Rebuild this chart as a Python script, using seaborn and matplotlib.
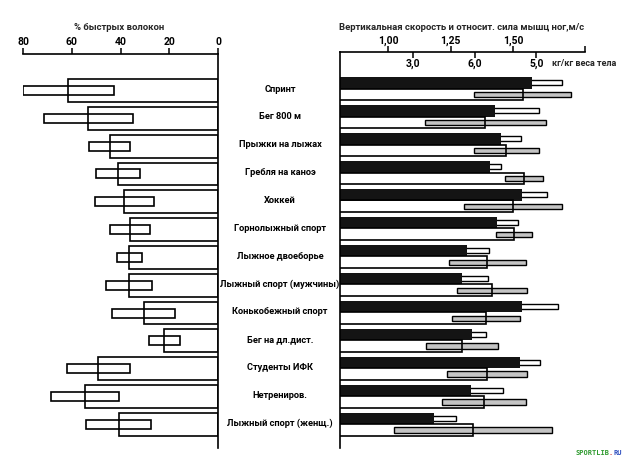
import numpy as np
import pandas as pd
import matplotlib
matplotlib.use("Agg")
import matplotlib.pyplot as plt
import seaborn as sns
from matplotlib.transforms import blended_transform_factory

# ---------------- data ----------------
categories = ["Спринт", "Бег 800 м", "Прыжки на лыжах", "Гребля на каноэ", "Хоккей",
              "Горнолыжный спорт", "Лыжное двоеборье", "Лыжный спорт (мужчины)",
              "Конькобежный спорт", "Бег на дл.дист.", "Студенты ИФК", "Нетрениров.",
              "Лыжный спорт (женщ.)"]
fast_fiber_mean = [61.4, 53.2, 44.5, 41.1, 38.4, 36.1, 36.4, 36.5, 30.5, 22.0, 49.2, 54.6, 40.8]
fast_fiber_sd = [18.6, 18.3, 8.4, 9.0, 12.0, 8.4, 5.1, 9.4, 12.9, 6.4, 12.9, 13.9, 13.5]
velocity_mean = [1.575, 1.428, 1.451, 1.408, 1.537, 1.435, 1.315, 1.297, 1.537, 1.335, 1.528, 1.332, 1.185]
velocity_sd = [0.120, 0.177, 0.081, 0.043, 0.098, 0.084, 0.090, 0.104, 0.144, 0.057, 0.080, 0.127, 0.087]
strength_mean = [4.78, 4.17, 4.51, 4.80, 4.62, 4.63, 4.20, 4.28, 4.18, 3.79, 4.20, 4.15, 3.97]
strength_sd = [0.79, 0.98, 0.53, 0.31, 0.79, 0.29, 0.63, 0.57, 0.56, 0.58, 0.65, 0.68, 1.28]

fiber_ticks = [80, 60, 40, 20, 0]
fiber_ticklabels = ["80", "60", "40", "20", "0"]
velocity_ticks = [1.00, 1.25, 1.50]
velocity_ticklabels = ["1,00", "1,25", "1,50"]
strength_ticks = [3.0, 4.0, 5.0]
strength_ticklabels = ["3,0", "6,0", "5,0"]

title_left = "% быстрых волокон"
title_right = "Вертикальная скорость и относит. сила мышц ног,м/с"
strength_unit = "кг/кг веса тела"

# ---------------- style ----------------
sns.set_theme(style="white")
plt.rcParams["font.family"] = ["Roboto", "DejaVu Sans"]
plt.rcParams["font.weight"] = "bold"
plt.rcParams["axes.linewidth"] = 1.2

W, H = 623, 461
fig = plt.figure(figsize=(W / 100, H / 100), dpi=100)
fig.patch.set_facecolor("white")

n = len(categories)
ypos = np.arange(n)
ylims = (12.85, -1.31)
LW = 1.2

# ---------------- left panel ----------------
axL = fig.add_axes([23 / W, 1 - 448 / H, 195 / W, (448 - 54) / H])
df_fiber = pd.DataFrame({"category": categories, "fiber": fast_fiber_mean})
sns.barplot(data=df_fiber, x="fiber", y="category", order=categories, ax=axL,
            fill=False, color="black", width=0.82, linewidth=LW, errorbar=None, orient="h")
axL.barh(ypos, width=2 * np.array(fast_fiber_sd),
         left=np.array(fast_fiber_mean) - np.array(fast_fiber_sd),
         height=0.32, fill=False, edgecolor="black", linewidth=LW)
axL.set_xlim(80, 0)
axL.set_ylim(*ylims)
for s in ["left", "bottom"]:
    axL.spines[s].set_visible(False)
for s in ["top", "right"]:
    axL.spines[s].set_color("black")
    axL.spines[s].set_linewidth(LW)
axL.xaxis.set_ticks_position("top")
axL.xaxis.set_label_position("top")
axL.set_xticks(fiber_ticks)
axL.set_xticklabels(fiber_ticklabels)
axL.tick_params(axis="x", direction="out", length=4, width=1.1, pad=1,
                labelsize=7.5, colors="black")
axL.set_yticks([])
axL.set_xlabel("")
axL.set_ylabel("")
axL.patch.set_alpha(0)

# ---------------- right panel ----------------
axR = fig.add_axes([340 / W, 1 - 448 / H, 245 / W, (448 - 52) / H])
axK = axR.twiny()

df_vel = pd.DataFrame({"category": categories, "value": velocity_mean, "series": "v"})
vm = np.array(velocity_mean)
vs = np.array(velocity_sd)
axR.barh(ypos - 0.2075, width=2 * vs, left=vm - vs, height=0.19,
         facecolor="white", edgecolor="black", linewidth=1.0, zorder=0.5)
sns.barplot(data=df_vel, x="value", y="category", hue="series", hue_order=["v", "k"],
            order=categories, palette={"v": "#141414", "k": "white"}, ax=axR,
            width=0.83, linewidth=0, errorbar=None, legend=False, orient="h", dodge=True)
axR.set_xlim(0.808, 1.788)
axR.set_ylim(*ylims)
for s in ["right", "bottom"]:
    axR.spines[s].set_visible(False)
for s in ["top", "left"]:
    axR.spines[s].set_color("black")
    axR.spines[s].set_linewidth(LW)

df_str = pd.DataFrame({"category": categories, "value": strength_mean, "series": "k"})
km = np.array(strength_mean)
ks = np.array(strength_sd)
axK.barh(ypos + 0.2075, width=2 * ks, left=km - ks, height=0.19,
         facecolor="#c4c4c4", edgecolor="black", linewidth=1.0, zorder=0.5)
sns.barplot(data=df_str, x="value", y="category", hue="series", hue_order=["v", "k"],
            order=categories, palette={"v": "black", "k": "black"}, ax=axK,
            width=0.83, fill=False, linewidth=LW, errorbar=None, legend=False,
            orient="h", dodge=True)
axK.set_xlim(1.805, 5.79)
axK.set_ylim(*ylims)
for s in axK.spines.values():
    s.set_visible(False)

# velocity axis (top, ticks outward, labels above)
axR.xaxis.set_ticks_position("top")
axR.xaxis.set_label_position("top")
axR.set_xticks(velocity_ticks)
axR.set_xticklabels(velocity_ticklabels)
axR.set_xticks([1.788], minor=True)
axR.tick_params(axis="x", which="both", direction="out", length=4, width=1.1, pad=0.5,
                labelsize=7.5, colors="black", top=True, bottom=False,
                labeltop=True, labelbottom=False)
axR.set_yticks([])
axR.set_xlabel("")
axR.set_ylabel("")
axR.patch.set_alpha(0)

# strength axis (ticks inward from same line, labels below it)
axK.xaxis.set_ticks_position("top")
axK.set_xticks(strength_ticks)
axK.set_xticklabels(strength_ticklabels)
axK.tick_params(axis="x", direction="in", length=4, width=1.1, pad=-12,
                labelsize=7.5, colors="black", top=True, bottom=False,
                labeltop=True, labelbottom=False)
axK.set_yticks([])
axK.set_xlabel("")
axK.set_ylabel("")

# ---------------- texts ----------------
trans = blended_transform_factory(fig.transFigure, axL.transData)
for i, cat in enumerate(categories):
    axL.text(280 / W, i - 0.05, cat, transform=trans, ha="center", va="center",
             fontsize=6.7, fontweight="bold", color="black", clip_on=False)

fig.text(119 / W, 1 - 28 / H, title_left, ha="center", va="center",
         fontsize=6.8, fontweight="bold")
fig.text(339 / W, 1 - 27 / H, title_right, ha="left", va="center",
         fontsize=6.8, fontweight="bold")
fig.text(552 / W, 1 - 64 / H, strength_unit, ha="left", va="center",
         fontsize=6.5, fontweight="bold")

fig.text(575 / W, 1 - 453 / H, "SPORTLIB", ha="left", va="center", fontsize=5,
         color="#2f9a2f", family="DejaVu Sans Mono", fontweight="bold")
fig.text(609 / W, 1 - 453 / H, ".", ha="left", va="center", fontsize=5,
         color="#d02020", family="DejaVu Sans Mono", fontweight="bold")
fig.text(613 / W, 1 - 453 / H, "RU", ha="left", va="center", fontsize=5,
         color="#3050c0", family="DejaVu Sans Mono", fontweight="bold")

fig.savefig("out.png", dpi=100, facecolor="white")
